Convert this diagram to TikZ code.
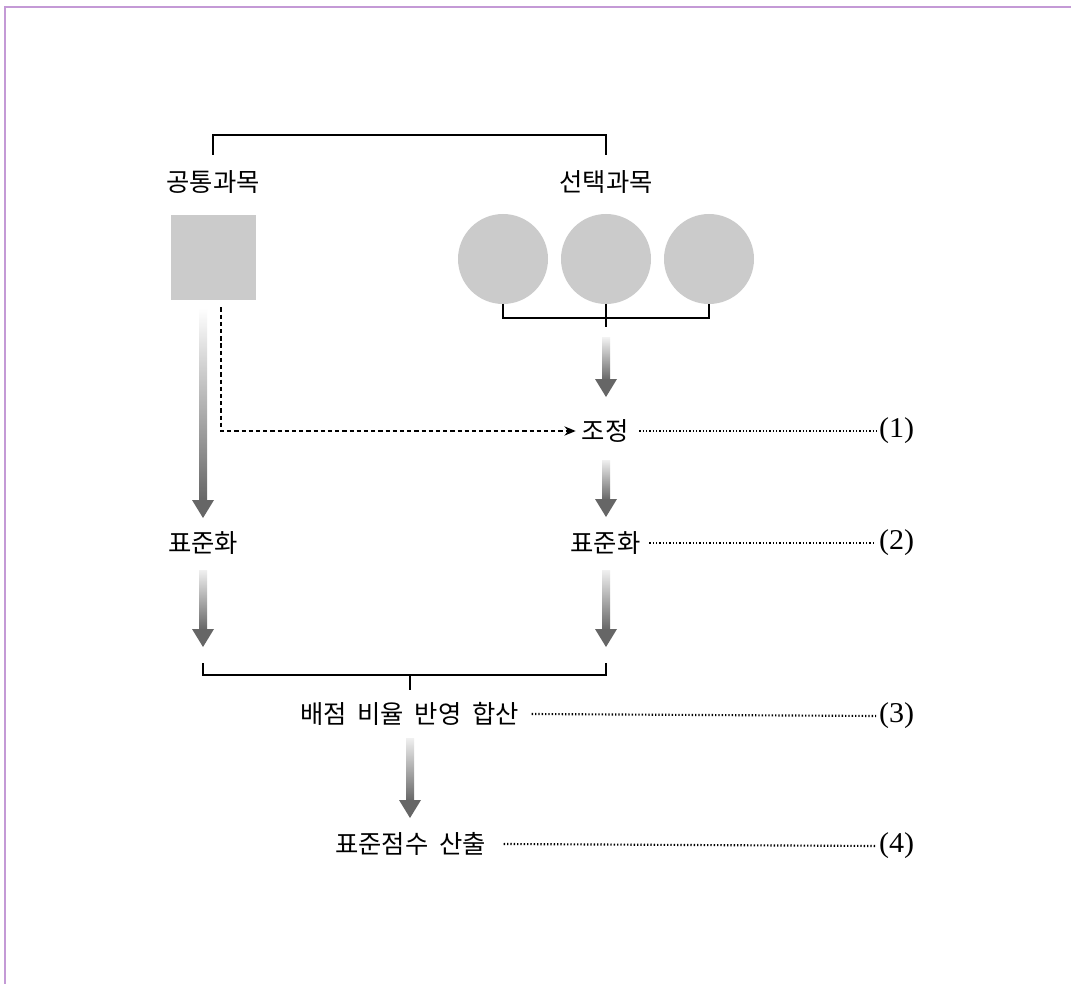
\documentclass[tikz,border=0pt]{standalone}
\usepackage{fontspec}
\usepackage{graphicx}
\setmainfont{Liberation Serif}
\newfontfamily\kr{Noto Sans CJK KR}
\usetikzlibrary{calc,arrows.meta}
\definecolor{framec}{HTML}{C49AD6}
\definecolor{shapegray}{HTML}{CBCBCB}
\definecolor{arrgray}{HTML}{666666}
\newcommand\wsp{\hspace{0.42em}}
\tikzset{
  lbl/.style={font=\kr\fontsize{19}{22}\selectfont, inner sep=0pt, outer sep=0pt},
  num/.style={font=\fontsize{21.5}{24}\selectfont, inner sep=0pt, outer sep=0pt, anchor=west},
  brk/.style={line width=1.5pt, black},
  leader/.style={line width=1.6pt, dash pattern=on 1pt off 1.5pt},
  dashline/.style={line width=0.9pt, dash pattern=on 3.2pt off 2.2pt},
  sqr/.style={fill=shapegray, minimum size=63.75pt, inner sep=0pt, outer sep=0pt},
  circ/.style={circle, fill=shapegray, minimum size=67.5pt, inner sep=0pt, outer sep=0pt},
}
\newcommand\gradarrow[3]{%
  \shade[top color=#3, bottom color=arrgray] ($(#1)+(-4,0)$) rectangle ($(#2)+(4,-17)$);
  \fill[arrgray] ($(#2)+(-11,-18)$) -- ($(#2)+(11,-18)$) -- (#2) -- cycle;
}
\begin{document}
\begin{tikzpicture}[x=0.75pt, y=-0.75pt]
\useasboundingbox (0,0) rectangle (1071,984);
\fill[white] (0,0) rectangle (1071,984);
\draw[framec, line width=1.5pt] (5,984) -- (5,7) -- (1071,7);

% nodes
\node[lbl] (common) at (213,182.5) {공통과목};
\node[lbl] (select) at (606,182.5) {선택과목};
\node[sqr] (sq) at (213.5,258) {};
\node[circ] (c1) at (503,259) {};
\node[circ] (c2) at (606,259) {};
\node[circ] (c3) at (709,259) {};
\node[lbl] (adj) at (605,431) {조정};
\node[lbl] (stdL) at (203,543) {표준화};
\node[lbl] (stdR) at (605.5,543) {표준화};
\node[lbl] (sum) at (409.5,714) {배점\wsp 비율\wsp 반영\wsp 합산};
\node[lbl] (out) at (410.5,844) {표준점수\wsp 산출};
\node[num] (n1) at (879,431) {\scalebox{1.05}[1]{(1)}};
\node[num] (n2) at (879,543) {\scalebox{1.05}[1]{(2)}};
\node[num] (n3) at (879,716) {\scalebox{1.05}[1]{(3)}};
\node[num] (n4) at (879,846) {\scalebox{1.05}[1]{(4)}};

% brackets
\draw[brk] ($(common)+(0,-27.5)$) -- ++(0,-20) -| ($(select)+(0,-27.5)$);
\draw[brk] (c1.south) -- ++(0,14) -| (c3.south);
\draw[brk] (c2.south) -- ++(0,23);

% arrow coordinates
\coordinate (a1s) at (606,338); \coordinate (a1t) at (606,397);
\coordinate (a2s) at (606,460); \coordinate (a2t) at (606,517);
\coordinate (a3s) at (203,308); \coordinate (a3t) at (203,518);
\coordinate (a4s) at (203,570); \coordinate (a4t) at (203,647);
\coordinate (a5s) at (606,570); \coordinate (a5t) at (606,647);
\coordinate (a6s) at (410,738); \coordinate (a6t) at (410,818);
\gradarrow{a1s}{a1t}{black!6}
\gradarrow{a2s}{a2t}{black!6}
\gradarrow{a3s}{a3t}{white}
\gradarrow{a4s}{a4t}{black!6}
\gradarrow{a5s}{a5t}{black!6}
\gradarrow{a6s}{a6t}{black!6}

% lower bracket
\coordinate (join) at (410,675);
\draw[brk] ($(a4t)+(0,16)$) -- ($(a4t)+(0,28)$) -- (join) -- ($(a5t)+(0,28)$) -- ($(a5t)+(0,16)$);
\draw[brk] (join) -- ++(0,15);

% dashed connector
\draw[dashline, -{Stealth[length=8.5pt,width=7pt]}] ($(sq.south)+(7.5,7)$) |- ($(adj.west)+(-6,0)$);

% leaders
\draw[leader] ($(adj.east)+(11,0)$) -- ($(n1.west)+(-3,0)$);
\draw[leader] ($(stdR.east)+(9,0)$) -- ($(n2.west)+(-3,0)$);
\draw[leader] ($(sum.east)+(13,0)$) -- ($(n3.west)+(-3,0)$);
\draw[leader] ($(out.east)+(18,0)$) -- ($(n4.west)+(-3,0)$);
\end{tikzpicture}
\end{document}
